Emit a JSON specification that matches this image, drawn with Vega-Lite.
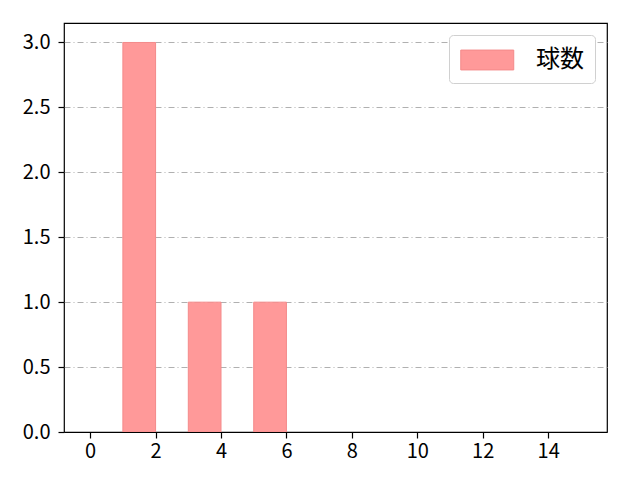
{
  "$schema": "https://vega.github.io/schema/vega-lite/v6.json",
  "width": 543,
  "height": 409,
  "autosize": {"type": "none"},
  "padding": {"left": 64, "top": 23, "right": 33, "bottom": 48},
  "background": "white",
  "config": {
    "font": "Noto Sans CJK JP",
    "view": {"stroke": "black", "strokeWidth": 1.2}
  },
  "data": {
    "values": [
      {"bin_start": 1, "bin_end": 2, "count": 3, "series": "球数"},
      {"bin_start": 3, "bin_end": 4, "count": 1, "series": "球数"},
      {"bin_start": 5, "bin_end": 6, "count": 1, "series": "球数"}
    ]
  },
  "mark": {"type": "bar", "fillOpacity": 1, "stroke": "#f48a8a", "strokeWidth": 1},
  "encoding": {
    "x": {
      "field": "bin_start",
      "type": "quantitative",
      "scale": {"domain": [-0.8, 15.8], "nice": false, "zero": false},
      "axis": {
        "values": [0, 2, 4, 6, 8, 10, 12, 14],
        "grid": false,
        "labelPadding": 3,
        "labelFontSize": 20,
        "labelFont": "Noto Sans CJK JP",
        "labelColor": "black",
        "tickColor": "black",
        "tickSize": 6,
        "tickWidth": 1.2,
        "domain": true,
        "domainColor": "black",
        "domainWidth": 1.2,
        "zindex": 1,
        "title": null
      }
    },
    "x2": {"field": "bin_end"},
    "y": {
      "field": "count",
      "type": "quantitative",
      "scale": {"domain": [0, 3.15], "nice": false},
      "axis": {
        "values": [0, 0.5, 1, 1.5, 2, 2.5, 3],
        "format": ".1f",
        "grid": true,
        "gridColor": "#b0b0b0",
        "gridDash": [6, 3, 1, 3],
        "gridWidth": 1,
        "labelPadding": 8,
        "labelFontSize": 20,
        "labelFont": "Noto Sans CJK JP",
        "labelColor": "black",
        "tickColor": "black",
        "tickSize": 6,
        "tickWidth": 1.2,
        "domain": false,
        "title": null
      }
    },
    "y2": {"datum": 0},
    "color": {
      "field": "series",
      "type": "nominal",
      "scale": {"range": ["#ff9999"]},
      "legend": {
        "title": null,
        "orient": "top-right",
        "offset": 12,
        "labelFontSize": 24,
        "labelFont": "Noto Sans CJK JP",
        "labelColor": "black",
        "symbolType": "M-1,-0.75H3V0.75H-1Z",
        "symbolSize": 702,
        "symbolStrokeColor": "#f48a8a",
        "symbolStrokeWidth": 1,
        "symbolOpacity": 1,
        "labelOffset": 48,
        "padding": 11,
        "strokeColor": "#d0d0d0",
        "fillColor": "white",
        "cornerRadius": 4
      }
    }
  }
}
